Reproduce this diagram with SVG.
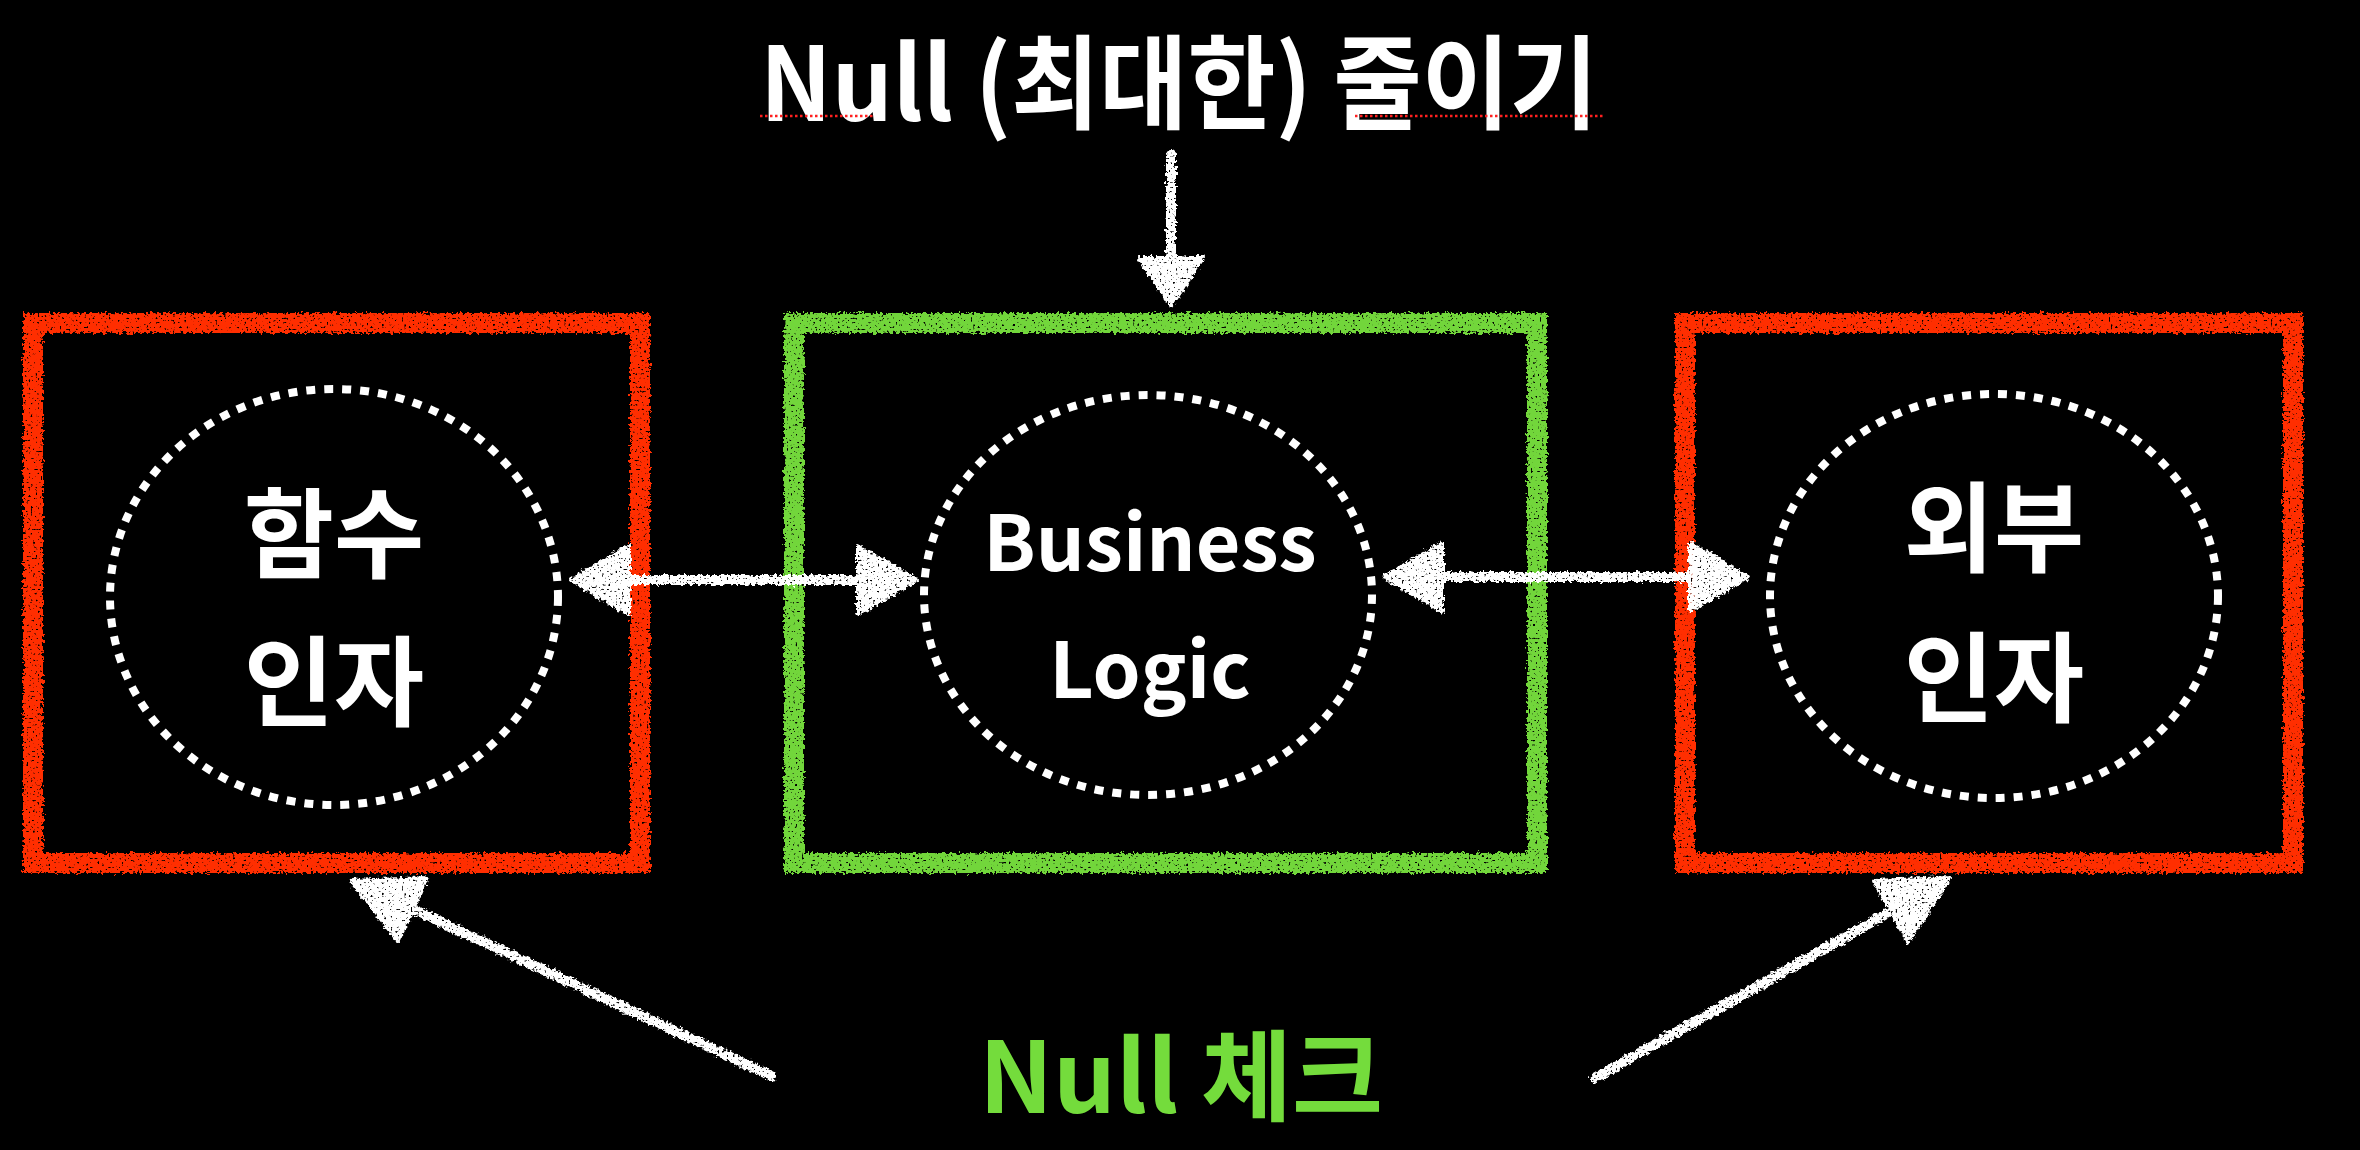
<svg xmlns="http://www.w3.org/2000/svg" width="2360" height="1150" viewBox="0 0 2360 1150">
<style>
.box{fill:none;stroke-width:20;}
.red{stroke:#ff2d00;}
.green{stroke:#72d63a;}
.ring{fill:none;stroke:#ffffff;stroke-width:8;stroke-dasharray:9 9;}
.lbl{font-family:"Noto Sans CJK KR","Noto Sans",sans-serif;font-weight:700;fill:#ffffff;text-anchor:middle;}
.shaft{stroke:#ffffff;stroke-width:10;stroke-linecap:round;fill:none;}
.head{fill:#ffffff;stroke:#ffffff;stroke-width:4;stroke-linejoin:round;}
.squig{stroke:#ff2020;stroke-width:2.5;stroke-dasharray:2.5 2.5;fill:none;}
</style>
<defs>
<filter id="chalk" filterUnits="userSpaceOnUse" x="0" y="0" width="2360" height="1150">
<feTurbulence type="fractalNoise" baseFrequency="0.3" numOctaves="2" seed="3" result="noise"/>
<feDisplacementMap in="SourceGraphic" in2="noise" scale="7" xChannelSelector="R" yChannelSelector="G" result="d"/>
<feTurbulence type="fractalNoise" baseFrequency="0.45" numOctaves="1" seed="11" result="n2"/>
<feColorMatrix in="n2" type="matrix" values="0 0 0 0 0  0 0 0 0 0  0 0 0 0 0  -10 0 0 0 7.3" result="mask"/>
<feComposite in="d" in2="mask" operator="in"/>
</filter>
</defs>
<rect x="0" y="0" width="2360" height="1150" fill="#000000"/>

<g id="title">
<text class="lbl" x="1179" y="121" font-size="102" font-weight="900" textLength="838" lengthAdjust="spacingAndGlyphs">Null (최대한) 줄이기</text>
<line class="squig" x1="760" y1="116" x2="873" y2="116"/>
<line class="squig" x1="1355" y1="116" x2="1603" y2="116"/>
</g>

<g id="node-func-args">
<rect class="box red" x="33" y="323" width="607" height="540" filter="url(#chalk)"/>
<ellipse class="ring" cx="334" cy="597" rx="224" ry="208"/>
<text class="lbl" x="334" y="570" font-size="98">함수</text>
<text class="lbl" x="334" y="718" font-size="98">인자</text>
</g>

<g id="node-business-logic">
<rect class="box green" x="794" y="323" width="743" height="540" filter="url(#chalk)"/>
<ellipse class="ring" cx="1148" cy="595" rx="224" ry="200"/>
<text class="lbl" x="1150" y="571" font-size="77">Business</text>
<text class="lbl" x="1150" y="698" font-size="77">Logic</text>
</g>

<g id="node-external-args">
<rect class="box red" x="1685" y="323" width="608" height="540" filter="url(#chalk)"/>
<ellipse class="ring" cx="1994" cy="596" rx="224" ry="202"/>
<text class="lbl" x="1994" y="564" font-size="98">외부</text>
<text class="lbl" x="1994" y="714" font-size="98">인자</text>
</g>

<g id="connectors" filter="url(#chalk)">
<line class="shaft" x1="1171" y1="155" x2="1171" y2="262"/>
<polygon class="head" points="1139,258 1203,258 1171,306"/>

<line class="shaft" x1="625" y1="580" x2="862" y2="580"/>
<polygon class="head" points="571,580 629,546 629,614"/>
<polygon class="head" points="916,580 858,546 858,614"/>

<line class="shaft" x1="1436" y1="577" x2="1696" y2="577"/>
<polygon class="head" points="1384,577 1442,543 1442,611"/>
<polygon class="head" points="1748,577 1690,543 1690,611"/>

<line class="shaft" x1="771" y1="1076" x2="415" y2="910"/>
<polygon class="head" points="351,881 427,878 398,941"/>

<line class="shaft" x1="1595" y1="1078" x2="1888" y2="913"/>
<polygon class="head" points="1950,878 1908,942 1874,881"/>
</g>

<g id="label-null-check">
<text class="lbl" x="1181" y="1113" font-size="99" style="fill:#74dc3c">Null 체크</text>
</g>
</svg>
